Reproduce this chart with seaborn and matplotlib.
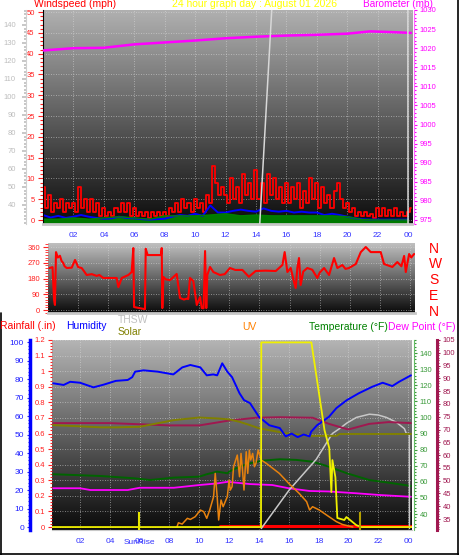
import numpy as np
import matplotlib.pyplot as plt
import matplotlib.colors as mcolors
from matplotlib.lines import Line2D
from matplotlib.ticker import MultipleLocator, FixedLocator
import seaborn as sns

sns.set_style("white")
plt.rcParams['font.family'] = ['Liberation Sans', 'DejaVu Sans']

# ---------------- data ----------------
hour_ticks = list(range(2, 25, 2))
hour_labels = ['02', '04', '06', '08', '10', '12', '14', '16', '18', '20', '22', '00']

# wind gusts (mph), one sample every 0.2 h
gust_mph = [8, 3, 6, 2, 4, 3, 5, 2, 4, 3,
            4, 2, 8, 3, 5, 2, 5, 2, 4, 1,
            3, 1, 2, 1, 3, 2, 4, 2, 4, 1,
            3, 1, 2, 1, 2, 0.5, 2, 1, 2, 1,
            2, 1, 3, 2, 4, 2, 5, 3, 4, 2,
            5, 3, 4, 2, 6, 4, 13, 9, 6, 8,
            6, 4, 10, 5, 8, 4, 11, 6, 9, 5,
            12, 5, 9, 4, 11, 6, 10, 5, 8, 4,
            9, 4, 8, 5, 9, 3, 7, 4, 10, 5,
            9, 3, 8, 4, 6, 3, 7, 9, 5, 3,
            4, 2, 3, 1, 2, 1, 2, 1, 1.5, 0.5,
            3, 1, 3, 1, 2.5, 1, 3, 1, 2, 1,
            2, 3]
gust_hour = np.arange(len(gust_mph)) * 0.2

# average wind (mph), every 0.5 h
wind_avg = [1.2, 0.6, 1, 0.5, 0.8, 1.2, 0.8, 0.5,
            0.3, 0.4, 0.8, 0.5, 0.4, 0.2, 0.1, 0.2,
            0.3, 0.8, 1.2, 1, 1.5, 1, 3.5, 1.8,
            1.8, 2.2, 2.5, 2.2, 2, 2.8, 2.2, 2,
            2.2, 1.8, 2, 1.8, 1.8, 1.2, 1.5, 1.2,
            0.8, 0.4, 0.2, 0.1, 0.1, 0.1, 0.1, 0.1,
            0.1]
wind_avg_hour = np.arange(len(wind_avg)) * 0.5

# wind lull (mph), hourly
wind_low = [0.2, 0.2, 0.5, 0.2, 0.5, 0.8, 0.5, 0.2, 1, 1, 1, 1.2, 1.5,
            1, 1.2, 1, 1, 1, 1, 1, 0.8, 0.1, 0, 0, 0]
wind_low_hour = np.arange(len(wind_low)) * 1.0

baro_hour = [0, 2, 4, 6, 8, 10, 12, 14, 16, 18, 20, 21.5, 23, 24.2]
baro_mb = [1019.4, 1020.0, 1020.1, 1021.0, 1021.5, 1022.0, 1022.6, 1023.0,
           1023.3, 1023.5, 1023.8, 1024.4, 1024.2, 1024.0]

thsw_top_hour = [14.25, 15.05, 16.0, 23.98, 24.0]
thsw_top_val = [29.4, 150, 220, 220, 29.4]
gray_ticks = [40, 50, 60, 70, 80, 90, 100, 110, 120, 130, 140]

# wind direction (degrees)
dir_hour = [0.10, 0.30, 0.40, 0.46, 0.53, 0.65, 0.79, 0.9, 1.0, 1.1, 1.24, 1.57,
            1.79, 1.9, 2.0, 2.23, 2.4, 2.56, 2.9, 3.22, 3.4, 3.66, 4.0, 4.55,
            4.66, 4.88, 5.32, 5.54, 5.65, 5.70, 6.0, 6.42, 6.47, 6.6, 7.48,
            7.53, 7.57, 7.64, 7.8, 8.08, 8.52, 8.74, 9.0, 9.19, 9.29, 9.4,
            9.62, 9.85, 10.07, 10.18, 10.3, 10.4, 10.48, 10.55, 10.73, 10.95,
            11.39, 11.7, 12.05, 12.4, 12.87, 13.3, 13.75, 14.4, 15.08, 15.52,
            15.67, 15.85, 16.07, 16.29, 16.4, 16.51, 16.62, 16.73, 16.9, 17.17,
            17.5, 17.83, 18.0, 18.28, 18.61, 18.94, 19.16, 19.49, 19.7, 19.93,
            20.38, 20.71, 21.04, 21.37, 22.03, 22.25, 22.8, 23.13, 23.4, 23.58,
            23.69, 23.91, 24.05, 24.24]
dir_deg = [240, 245, 60, 29, 331, 300, 310, 280, 270, 250, 240, 242,
           286, 265, 245, 240, 220, 200, 205, 195, 200, 183, 183, 183,
           131, 183, 200, 217, 354, 17, 12, 5, 350, 314, 314,
           354, 11, 189, 175, 171, 206, 69, 60, 65, 63, 183,
           166, 29, 74, 11, 10, 337, 11, 200, 246, 217,
           200, 205, 240, 229, 229, 190, 223, 225, 223, 257,
           331, 217, 240, 160, 126, 240, 297, 143, 220, 240,
           230, 183, 215, 240, 200, 297, 240, 257, 235, 240,
           263, 331, 360, 331, 331, 263, 246, 274, 250, 309,
           217, 320, 300, 320]
compass_ticks = [0, 90, 180, 270, 360]
compass_labels = ['N', 'E', 'S', 'W', 'N']

# bottom panel
hum_hour = [0.2, 0.9, 1.34, 2.0, 2.9, 3.6, 4.4, 5.2, 5.5, 5.7, 6.26, 7.2, 8.26,
            8.86, 9.4, 10.07, 10.5, 10.94, 11.2, 11.54, 11.88, 12.2, 12.7, 13.0,
            13.4, 14.0, 14.7, 15.4, 15.8, 16.2, 16.6, 17.0, 17.4, 17.5, 17.9,
            18.7, 19.2, 19.9, 20.7, 21.6, 22.3, 22.95, 23.4, 24.2]
hum_pct = [77.7, 76.8, 78.5, 78, 75.5, 77, 79, 79.5, 81, 84, 84.7, 84, 82.5,
           86.3, 87.6, 86.3, 82, 82.5, 82, 88.5, 84, 81, 72.3, 68.6,
           67, 59.6, 55, 53.5, 49, 50.5, 48.6, 50, 49, 51.5, 55,
           59.6, 64.3, 68.6, 72.3, 75.8, 78, 76.2, 78.5, 82]

temp_hour = [0.2, 3.4, 5.6, 6.7, 8.3, 10.0, 10.5, 11.2, 11.9, 12.0, 12.7, 13.4,
             14.2, 15.4, 16.5, 17.6, 18.7, 19.9, 21.4, 22.75, 24.2]
temp_f = [64.7, 63.6, 62.2, 61.1, 62.6, 63.2, 64.7, 66.3, 65.3, 66.3, 69.4, 71.5,
          73.1, 74, 73.6, 72.5, 69.4, 65.3, 61.1, 59.4, 57.4]

dew_hour = [0.2, 2.0, 2.7, 5.2, 6.0, 8.3, 10.0, 11.2, 11.9, 13.4, 14.9, 16.0,
            17.4, 18.7, 20.5, 22.1, 24.2]
dew_f = [56, 56, 54.9, 54.9, 56.3, 56.3, 58, 59, 60, 58.6, 58, 56,
         54.3, 54, 52.9, 51.8, 50.7]

heat_hour = [0.2, 4, 8, 10, 12, 13.8, 15.4, 17.6, 18.7, 20, 21.4, 22.7, 24.2]
heat_f = [72.5, 72.5, 71.6, 71.6, 73.5, 74.6, 74.8, 74.6, 72.2, 70, 72.2, 72.9, 72.5]

solar_hour = [0.2, 3.4, 4.5, 6.0, 8.3, 10.0, 11.2, 12.0, 12.7, 13.4, 14.0, 15.0,
              16.0, 17.0, 17.5, 19.2, 19.4, 24.2]
solar_val = [55.1, 53.9, 53.9, 54.2, 57.8, 59.2, 58.7, 58.2, 56.9, 55.1, 53.4, 51.9,
             50.5, 49.7, 49.3, 49.3, 50.3, 50.3]

thsw_hour = [14.16, 16.04, 17.85, 18.93, 19.4, 19.9, 20.54, 21.41, 22.0, 22.55,
             23.22, 23.76, 23.89, 24.09, 24.1]
thsw_f = [31, 55, 74, 90, 93, 96.5, 100, 102, 101.5, 100, 97, 93, 90, 90, 31]

uv_hour = [8.5, 8.6, 8.85, 9.2, 9.4, 9.73, 10.07, 10.3, 10.5, 10.7, 10.96, 11.07,
           11.2, 11.3, 11.46, 11.6, 11.88, 12.0, 12.08, 12.2, 12.3, 12.55, 12.7,
           12.8, 12.9, 13.0, 13.15, 13.25, 13.36, 13.45, 13.58, 13.7, 13.8, 13.95,
           14.16, 14.5, 15.37, 16.0, 16.7, 17.2, 17.4, 17.6, 18.05, 18.7, 19.2,
           19.6, 20.3]
uv_val = [0, 2.3, 1.6, 4.7, 4.1, 5.6, 9.2, 8.3, 4.7, 9.2, 16.4, 29,
          16.4, 3.8, 14.6, 11, 16.4, 25.4, 20, 21.8, 32.6, 38.9, 27.2,
          39.8, 30.8, 20, 40.7, 29, 41.6, 36.2, 39.8, 32.6, 34.4, 41.6,
          36.2, 34.4, 29, 23.6, 18.2, 13.7, 9.2, 11, 9.2, 5.6, 2.9,
          1.4, 0]

yel_hour = [0.12, 14.14, 14.16, 17.52, 18.4, 18.72, 18.86, 18.93, 19.13, 19.26,
            19.73, 19.87, 20.54, 20.87, 24.27]
yel_val = [0, 0, 99.8, 99.8, 52.4, 42.7, 18.9, 36.2, 27, 4.9, 3.8, 5.4, 1, 0, 0]

rain_hour = [11.4, 24.27]
rain_in = [0.008, 0.008]

sunrise_hour = 5.97
sunset_hour = 20.8

# ---------------- figure ----------------
W, H = 459, 555
fig = plt.figure(figsize=(W / 100, H / 100), dpi=100)
fig.patch.set_facecolor('white')


def px_box(x0, y0, x1, y1):
    # pixel box (origin top-left) -> figure rect
    return [x0 / W, 1 - y1 / H, (x1 - x0) / W, (y1 - y0) / H]


def add_gradient(ax, top, bottom):
    cmap = mcolors.LinearSegmentedColormap.from_list('bg', [bottom, top])
    ax.imshow(np.linspace(0, 1, 256).reshape(-1, 1), cmap=cmap, origin='lower',
              aspect='auto', extent=[0, 1, 0, 1], transform=ax.transAxes, zorder=0)


def hide_spines(ax):
    for s in ax.spines.values():
        s.set_visible(False)


def time_axis(ax, labels=True):
    ax.set_xticks(hour_ticks)
    ax.set_xticklabels(hour_labels if labels else [])
    ax.xaxis.set_minor_locator(MultipleLocator(0.25))
    ax.tick_params(axis='x', which='major', color='#c8c8c8', labelcolor='#3333ff',
                   labelsize=6, length=2, pad=4)
    ax.tick_params(axis='x', which='minor', color='#c8c8c8', length=1.2)
    ax.grid(True, color='#dcdcdc', linestyle=(0, (1, 2)), linewidth=0.6, alpha=0.7)


def value_axis(ax, color, major, minor, length=3, pad=2, size=5.5, width=0.8):
    ax.yaxis.set_major_locator(MultipleLocator(major))
    ax.yaxis.set_minor_locator(MultipleLocator(minor))
    ax.tick_params(axis='y', which='major', color=color, labelcolor=color,
                   labelsize=size, length=length, pad=pad, width=width)
    ax.tick_params(axis='y', which='minor', color=color, length=length * 0.6, width=width)


def line(ax, x, y, color, lw=1.0, **kw):
    sns.lineplot(x=x, y=y, ax=ax, color=color, linewidth=lw, estimator=None,
                 sort=False, legend=False, **kw)


# ---- top panel ----
ax1 = fig.add_axes(px_box(43, 10, 412, 224))
add_gradient(ax1, '#b0b0b0', '#0c0c0c')
ax1.fill_between(wind_low_hour, -1, wind_low, color='#007a00', zorder=2)
line(ax1, gust_hour, gust_mph, '#ff0000', lw=1.3, drawstyle='steps-mid')
line(ax1, wind_avg_hour, wind_avg, '#0000ff', lw=1.4)
line(ax1, wind_low_hour, wind_low, '#008000', lw=1.0)
ax1.set_xlim(0, 24.26)
ax1.set_ylim(-0.96, 50.5)
time_axis(ax1)
value_axis(ax1, '#ff2020', 5, 1, length=3.5, pad=2.5)
hide_spines(ax1)
ax1.spines['left'].set_visible(True)
ax1.spines['left'].set_color('black')
ax1.spines['bottom'].set_visible(True)
ax1.spines['bottom'].set_color('#c8c8c8')
ax1.spines['bottom'].set_linewidth(2)

ax1b = ax1.twinx()
line(ax1b, baro_hour, baro_mb, '#ff00ff', lw=1.8)
ax1b.set_ylim(973.95, 1030.0)
hide_spines(ax1b)
ax1b.spines['right'].set_visible(True)
ax1b.spines['right'].set_color('#ff66ff')
ax1b.spines['right'].set_position(('outward', 1.5))
value_axis(ax1b, '#ff00ff', 5, 1, length=2.2, pad=2)

ax1g = ax1.twinx()
line(ax1g, thsw_top_hour, thsw_top_val, '#d8d8d8', lw=1.1)
ax1g.set_ylim(29.4, 148.3)
hide_spines(ax1g)
ax1g.yaxis.tick_left()
ax1g.spines['left'].set_visible(True)
ax1g.spines['left'].set_color('#d0d0d0')
ax1g.spines['left'].set_position(('outward', 12))
value_axis(ax1g, '#bdbdbd', 10, 2, length=3, pad=4.5, width=1.2)
ax1g.yaxis.set_major_locator(FixedLocator(gray_ticks))

# ---- wind direction panel ----
ax2 = fig.add_axes(px_box(48, 243, 415, 313))
add_gradient(ax2, '#c0c0c0', '#0a0a0a')
line(ax2, dir_hour, dir_deg, '#ff0000', lw=1.5)
ax2.set_xlim(0, 24.3)
ax2.set_ylim(-17, 383)
time_axis(ax2, labels=False)
ax2.tick_params(axis='x', which='both', length=0)
ax2.set_yticks(compass_ticks)
ax2.yaxis.set_minor_locator(MultipleLocator(15))
ax2.tick_params(axis='y', which='major', color='#ff2020', labelcolor='#ff2020',
                labelsize=5.5, length=3.5, pad=2)
ax2.tick_params(axis='y', which='minor', color='#ff2020', length=2)
hide_spines(ax2)
ax2.spines['bottom'].set_visible(True)
ax2.spines['bottom'].set_color('#c8c8c8')
ax2.spines['bottom'].set_linewidth(2)

ax2n = ax2.twinx()
ax2n.set_ylim(-17, 383)
ax2n.set_yticks(compass_ticks)
ax2n.set_yticklabels(compass_labels)
ax2n.tick_params(axis='y', length=0, pad=10, labelsize=10, labelcolor='#ff0000')
hide_spines(ax2n)

# ---- bottom panel ----
ax3 = fig.add_axes(px_box(52, 340, 412, 530))
add_gradient(ax3, '#b4b4b4', '#0a0a0a')
line(ax3, rain_hour, rain_in, '#ff0000', lw=2.2)
ax3.set_xlim(0.12, 24.27)
ax3.set_ylim(-0.019, 1.2)
time_axis(ax3)
value_axis(ax3, '#ff2020', 0.1, 0.02, length=3, pad=2)
ax3.yaxis.set_major_formatter(plt.FuncFormatter(lambda v, p: f'{v:g}'))
hide_spines(ax3)
ax3.spines['bottom'].set_visible(True)
ax3.spines['bottom'].set_color('#c8c8c8')
ax3.annotate('SunRise', xy=(sunrise_hour, 0), xycoords=('data', 'axes fraction'),
             xytext=(0, -9), textcoords='offset points', ha='center', va='center',
             fontsize=6, color='#3333ff')

ax3t = ax3.twinx()
line(ax3t, dew_hour, dew_f, '#ff00ff', lw=1.3)
line(ax3t, temp_hour, temp_f, '#006400', lw=1.4)
line(ax3t, thsw_hour, thsw_f, '#c8c8c8', lw=1.1)
ax3t.set_ylim(30.06, 148.1)
hide_spines(ax3t)
ax3t.spines['right'].set_visible(True)
ax3t.spines['right'].set_color('#66bb66')
ax3t.spines['right'].set_position(('outward', 1.5))
value_axis(ax3t, '#3a9a3a', 10, 2, length=2.2, pad=2)
ax3t.set_zorder(1)

ax3d = ax3.twinx()
line(ax3d, heat_hour, heat_f, '#a01850', lw=1.4)
ax3d.set_ylim(30.7, 105.0)
hide_spines(ax3d)
ax3d.spines['right'].set_visible(True)
ax3d.spines['right'].set_color('#a01850')
ax3d.spines['right'].set_linewidth(2.2)
ax3d.spines['right'].set_position(('outward', 18))
value_axis(ax3d, '#a01850', 5, 1, length=2.5, pad=1.5)
ax3d.set_zorder(2)

ax3h = ax3.twinx()
line(ax3h, solar_hour, solar_val, '#808000', lw=1.4)
line(ax3h, hum_hour, hum_pct, '#0000ff', lw=1.4)
line(ax3h, uv_hour, uv_val, '#e8820e', lw=1.1)
line(ax3h, yel_hour, yel_val, '#f0f000', lw=1.3)
ax3h.vlines([sunrise_hour], -2, 8, color='#e6e600', lw=1.5)
ax3h.vlines([sunset_hour], -2, 8, color='#b4a000', lw=1.5)
ax3h.set_ylim(-1.6, 101.1)
hide_spines(ax3h)
ax3h.yaxis.tick_left()
ax3h.spines['left'].set_visible(True)
ax3h.spines['left'].set_color('#0000ff')
ax3h.spines['left'].set_linewidth(2.5)
ax3h.spines['left'].set_position(('outward', 16))
value_axis(ax3h, '#2020ff', 10, 2, length=2.2, pad=2, size=6)
ax3h.set_zorder(3)

# ---- titles / labels ----
def label(x, y, s, color, size=7.5, ha='center'):
    fig.text(x / W, 1 - y / H, s, color=color, fontsize=size, ha=ha, va='center')

label(75, 4, 'Windspeed (mph)', '#ff0000')
label(255, 4, '24 hour graph day : August 01 2026', '#ffff00')
label(398, 4, 'Barometer (mb)', '#ff00ff', size=7.2)
label(0, 326, 'Rainfall (.in)', '#ff0000', ha='left')
label(66, 326, 'Humidity', '#0000ff', ha='left')
label(118, 320, 'THSW', '#c0c0c0', ha='left')
label(118, 332, 'Solar', '#808000', ha='left')
label(242, 327, 'UV', '#ff8000', ha='left')
label(309, 327, 'Temperature (°F)', '#008000', ha='left')
label(388, 327, 'Dew Point (°F)', '#ff00ff', ha='left')

# frame
fig.add_artist(Line2D([457.5 / W] * 2, [0, 1], color='black', lw=1.2))
fig.add_artist(Line2D([0.6 / W] * 2, [0, 1 - 313 / H], color='black', lw=1.2))
fig.add_artist(Line2D([0, 1], [0.8 / H] * 2, color='black', lw=1.2))

fig.savefig('out.png', dpi=100)
